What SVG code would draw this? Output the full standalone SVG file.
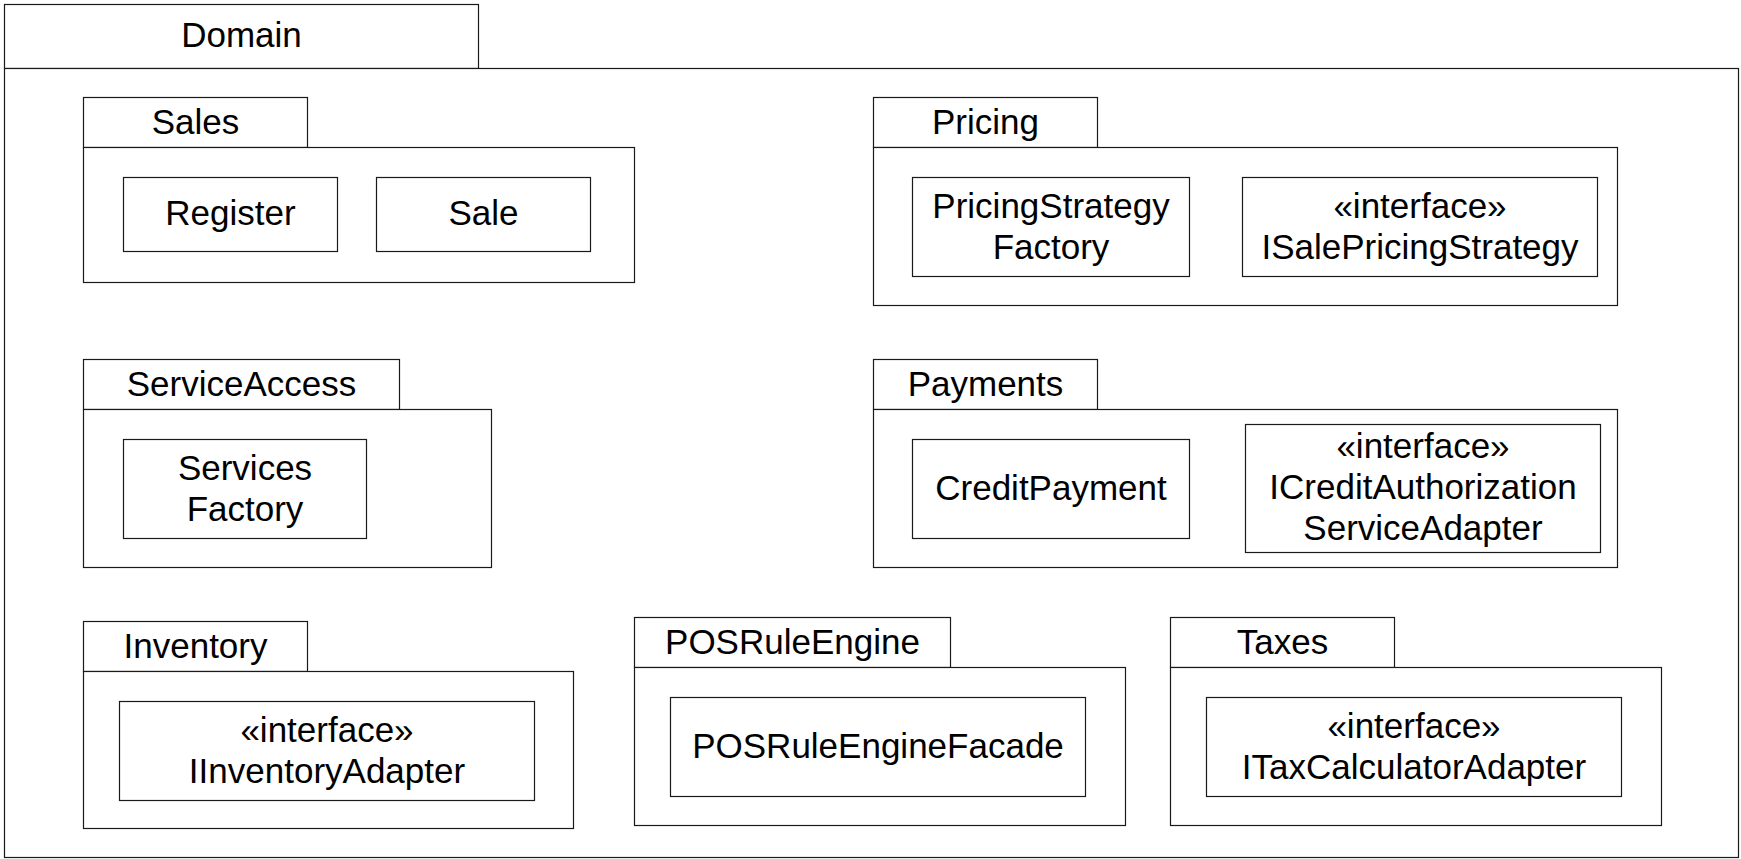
<svg xmlns="http://www.w3.org/2000/svg" width="1741" height="859" viewBox="0 0 1741 859">
  <style>
    rect { fill: #ffffff; stroke: #1a1a1a; stroke-width: 1.2; }
    text { font-family: "Liberation Sans", Arial, Helvetica, sans-serif; font-size: 35px; fill: #000000; text-anchor: middle; }
  </style>
  <rect x="0" y="0" width="1741" height="859" style="stroke:none"/>
  <g id="domain">
    <rect x="4.5" y="4.5" width="474" height="64"/>
    <rect x="4.5" y="68.5" width="1734" height="789"/>
    <text x="241.5" y="47">Domain</text>
  </g>
  <g id="sales">
    <rect x="83.5" y="97.5" width="224" height="50"/>
    <rect x="83.5" y="147.5" width="551" height="135"/>
    <text x="195.5" y="133.5">Sales</text>
  </g>
  <g id="register">
    <rect x="123.5" y="177.5" width="214" height="74"/>
    <text x="230.5" y="225">Register</text>
  </g>
  <g id="sale">
    <rect x="376.5" y="177.5" width="214" height="74"/>
    <text x="483.5" y="225">Sale</text>
  </g>
  <g id="pricing">
    <rect x="873.5" y="97.5" width="224" height="50"/>
    <rect x="873.5" y="147.5" width="744" height="158"/>
    <text x="985.5" y="133.5">Pricing</text>
  </g>
  <g id="pricingStrategyFactory">
    <rect x="912.5" y="177.5" width="277" height="99"/>
    <text x="1051" y="217.5">PricingStrategy</text>
    <text x="1051" y="258.5">Factory</text>
  </g>
  <g id="iSalePricingStrategy">
    <rect x="1242.5" y="177.5" width="355" height="99"/>
    <text x="1420" y="217.5">«interface»</text>
    <text x="1420" y="258.5">ISalePricingStrategy</text>
  </g>
  <g id="serviceAccess">
    <rect x="83.5" y="359.5" width="316" height="50"/>
    <rect x="83.5" y="409.5" width="408" height="158"/>
    <text x="241.5" y="395.5">ServiceAccess</text>
  </g>
  <g id="servicesFactory">
    <rect x="123.5" y="439.5" width="243" height="99"/>
    <text x="245" y="479.5">Services</text>
    <text x="245" y="520.5">Factory</text>
  </g>
  <g id="payments">
    <rect x="873.5" y="359.5" width="224" height="50"/>
    <rect x="873.5" y="409.5" width="744" height="158"/>
    <text x="985.5" y="395.5">Payments</text>
  </g>
  <g id="creditPayment">
    <rect x="912.5" y="439.5" width="277" height="99"/>
    <text x="1051" y="499.5">CreditPayment</text>
  </g>
  <g id="iCreditAuthorizationServiceAdapter">
    <rect x="1245.5" y="424.5" width="355" height="128"/>
    <text x="1423" y="457.5">«interface»</text>
    <text x="1423" y="499">ICreditAuthorization</text>
    <text x="1423" y="540">ServiceAdapter</text>
  </g>
  <g id="inventory">
    <rect x="83.5" y="621.5" width="224" height="50"/>
    <rect x="83.5" y="671.5" width="490" height="157"/>
    <text x="195.5" y="657.5">Inventory</text>
  </g>
  <g id="iInventoryAdapter">
    <rect x="119.5" y="701.5" width="415" height="99"/>
    <text x="327" y="741.5">«interface»</text>
    <text x="327" y="782.5">IInventoryAdapter</text>
  </g>
  <g id="posRuleEngine">
    <rect x="634.5" y="617.5" width="316" height="50"/>
    <rect x="634.5" y="667.5" width="491" height="158"/>
    <text x="792.5" y="653.5">POSRuleEngine</text>
  </g>
  <g id="posRuleEngineFacade">
    <rect x="670.5" y="697.5" width="415" height="99"/>
    <text x="878" y="757.5">POSRuleEngineFacade</text>
  </g>
  <g id="taxes">
    <rect x="1170.5" y="617.5" width="224" height="50"/>
    <rect x="1170.5" y="667.5" width="491" height="158"/>
    <text x="1282.5" y="653.5">Taxes</text>
  </g>
  <g id="iTaxCalculatorAdapter">
    <rect x="1206.5" y="697.5" width="415" height="99"/>
    <text x="1414" y="737.5">«interface»</text>
    <text x="1414" y="778.5">ITaxCalculatorAdapter</text>
  </g>
  <g id="connectors"/>
</svg>
